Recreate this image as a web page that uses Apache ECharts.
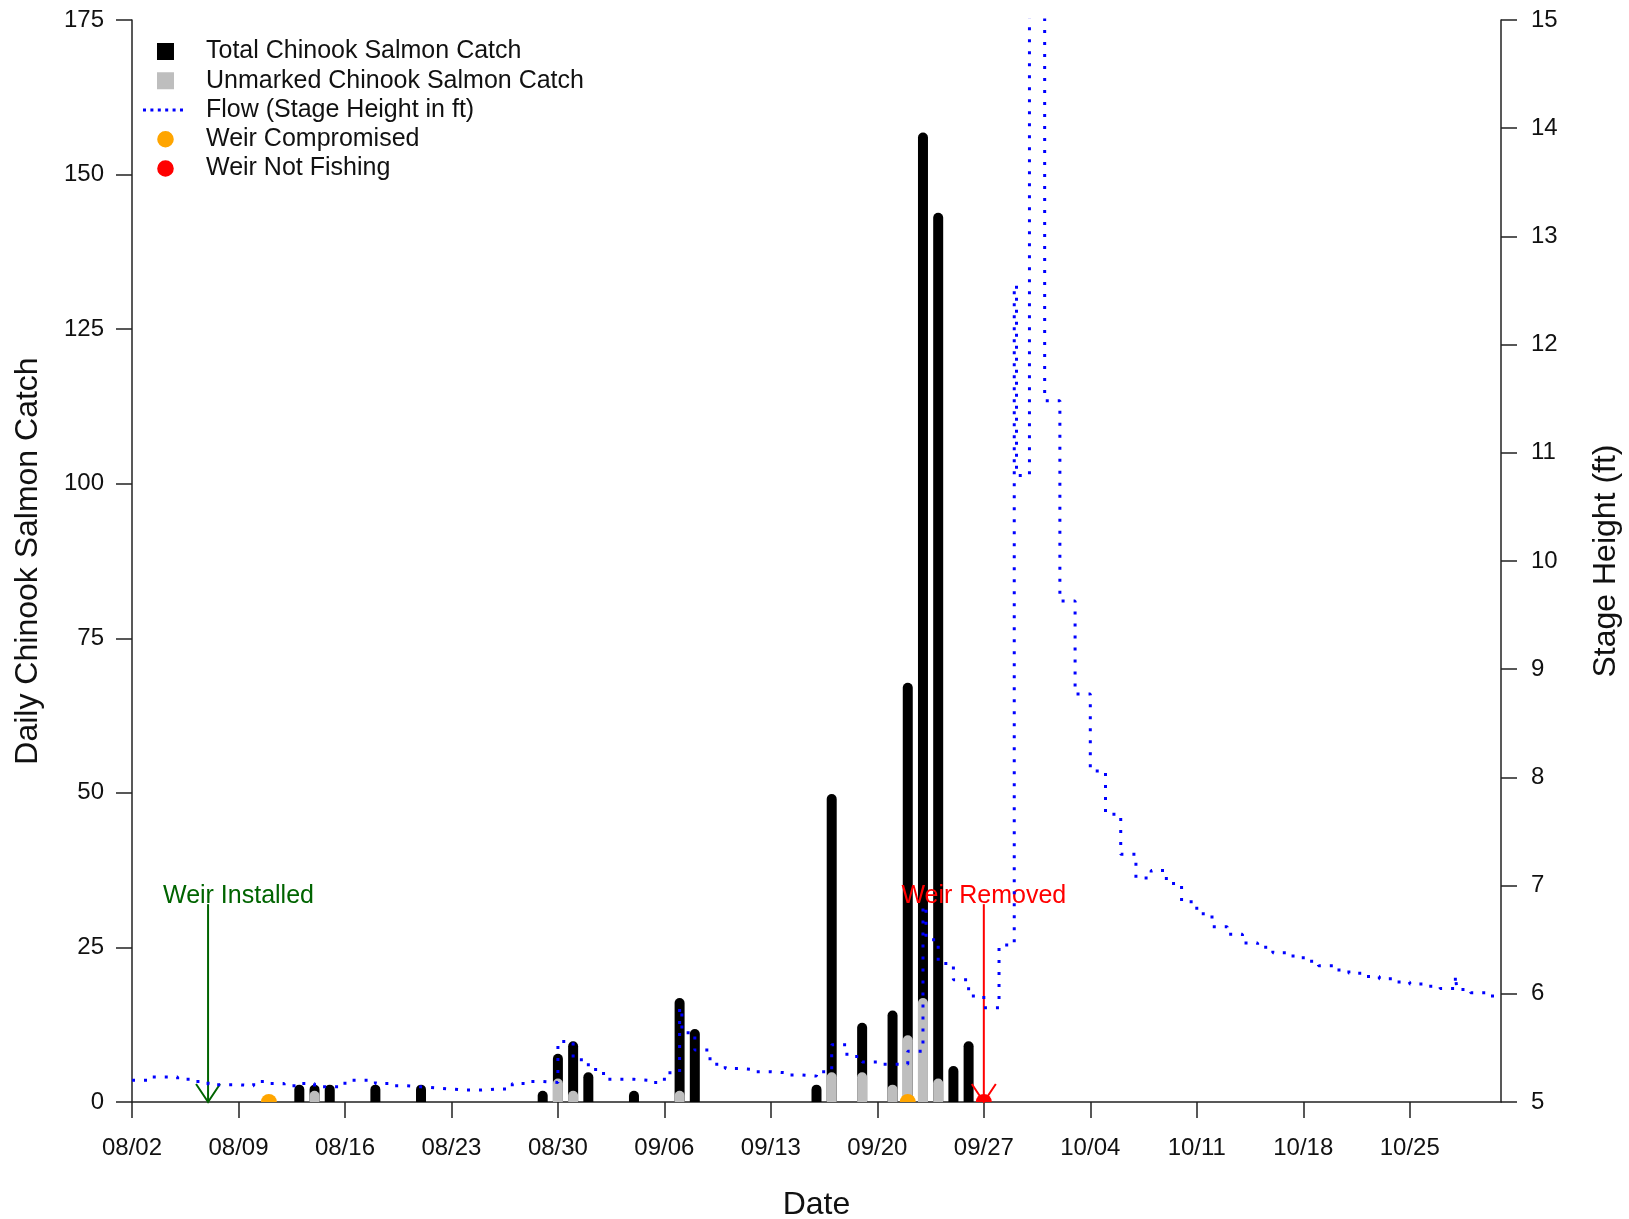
<!DOCTYPE html>
<html>
<head>
<meta charset="utf-8">
<script src="https://cdn.jsdelivr.net/npm/echarts@6/dist/echarts.min.js"></script>
<style>
html,body{margin:0;padding:0;background:#fff;}
#chart{width:1629px;height:1219px;}
</style>
</head>
<body>
<div id="chart"></div>
<script>
// ---------------- data ----------------
const seasonStart = '08/02';
const seasonEnd = '10/31';
const xTickLabels = ['08/02','08/09','08/16','08/23','08/30','09/06','09/13','09/20','09/27','10/04','10/11','10/18','10/25'];

const catchDates    = ['08/13','08/14','08/15','08/18','08/21','08/29','08/30','08/31','09/01','09/04','09/07','09/08','09/16','09/17','09/19','09/21','09/22','09/23','09/24','09/25','09/26'];
const totalCatch    = [2, 2, 2, 2, 2, 1, 7, 9, 4, 1, 16, 11, 2, 49, 12, 14, 67, 156, 143, 5, 9];
const unmarkedCatch = [0, 1, 0, 0, 0, 0, 3, 1, 0, 0, 1, 0, 0, 4, 4, 2, 10, 16, 3, 0, 0];

const compromisedDates = ['08/11','09/22'];
const notFishingDates  = ['09/27'];

const annotationNames  = ['Weir Installed','Weir Removed'];
const annotationDates  = ['08/07','09/27'];
const annotationLabelDates = ['08/09','09/27'];
const annotationTop    = [32, 32];
const annotationLabelY = [33.3, 33.3];

// stage height readings: day offset from 08/02 (step holds until next reading)
const flowDay   = [0,1,2,3,4,5,6,7,8,9,10,11,12,13,14,15,16,17,18,19,20,21,22,23,24,25,26,27,28,29,30,31,32,33,34,35,36,36.15,37,38,39,40,41,42,43,44,45,46,47,48,49,50,51,52,52.2,53,54,55,56,57,58,58.15,59,60,61,62,63,64,65,66,67,68,69,70,71,72,73,74,75,76,77,78,79,80,81,82,83,84,85,86,87,87.1,88,89,90];
const flowStage = [5.20,5.23,5.23,5.21,5.19,5.16,5.16,5.15,5.19,5.17,5.15,5.17,5.14,5.14,5.20,5.20,5.17,5.15,5.14,5.13,5.12,5.11,5.11,5.12,5.12,5.17,5.19,5.18,5.56,5.39,5.30,5.21,5.21,5.20,5.18,5.27,5.87,5.64,5.48,5.35,5.31,5.30,5.28,5.27,5.25,5.24,5.28,5.53,5.42,5.37,5.35,5.35,5.47,6.81,6.50,6.28,6.13,5.98,5.87,6.45,12.55,10.79,16.5,11.48,9.63,8.77,8.06,7.66,7.29,7.07,7.14,7.02,6.85,6.74,6.62,6.55,6.47,6.43,6.38,6.35,6.30,6.26,6.22,6.19,6.16,6.14,6.11,6.09,6.07,6.05,6.17,6.04,6.01,5.98,5.97];

const catchAxis = {min: 0, max: 175, step: 25};
const stageAxis = {min: 5, max: 15, step: 1};

// ---------------- helpers ----------------
function dayOf(mmdd) {
  const [m, d] = mmdd.split('/').map(Number);
  const [m0, d0] = seasonStart.split('/').map(Number);
  return Math.round((Date.UTC(2021, m - 1, d) - Date.UTC(2021, m0 - 1, d0)) / 864e5);
}
const tickDays = xTickLabels.map(dayOf);
const FONT = '"Liberation Sans", Arial, sans-serif';

function stickRender(color) {
  return function (params, api) {
    const x = api.value(0), v = api.value(1);
    const p0 = api.coord([x, 0]);
    const p1 = api.coord([x, v]);
    return {
      type: 'line',
      shape: {x1: p0[0], y1: p0[1], x2: p1[0], y2: p1[1]},
      style: {stroke: color, lineWidth: 10, lineCap: 'round'}
    };
  };
}
function dotRender(color) {
  return function (params, api) {
    const p = api.coord([api.value(0), api.value(1)]);
    return {type: 'circle', shape: {cx: p[0], cy: p[1], r: 8}, style: {fill: color}};
  };
}
function arrowRender(color, label) {
  return function (params, api) {
    const top = api.coord([api.value(0), api.value(1)]);
    const bot = api.coord([api.value(0), 0]);
    const t = api.coord([api.value(2), api.value(3)]);
    return {
      type: 'group',
      children: [
        {type: 'line', shape: {x1: top[0], y1: top[1], x2: bot[0], y2: bot[1]}, style: {stroke: color, lineWidth: 2}},
        {type: 'polyline', shape: {points: [[bot[0] - 12, bot[1] - 18], [bot[0], bot[1]], [bot[0] + 12, bot[1] - 18]]}, style: {stroke: color, lineWidth: 2, fill: 'none'}},
        {type: 'text', x: t[0], y: t[1], style: {text: label, fill: color, fontSize: 25, fontFamily: FONT, align: 'center', verticalAlign: 'middle'}}
      ]
    };
  };
}

// legend icons drawn in a 62 x 24 box
const BOX = 'M0,0h.01v.01h-.01zM62,24h.01v.01h-.01z';
const squareIcon = 'path://' + BOX + 'M18,3.5h17v17h-17z';
const circleIcon = 'path://' + BOX + 'M18.2,12a8.3,8.3 0 1,0 16.6,0a8.3,8.3 0 1,0 -16.6,0z';
let dashes = '';
for (let i = 0; i < 6; i++) { dashes += 'M' + (4 + i * 7.4) + ',10.5h3v3h-3z'; }
const dottedIcon = 'path://' + BOX + dashes;

// ---------------- chart ----------------
const chart = echarts.init(document.getElementById('chart'), null, {renderer: 'canvas'});

const axisLineStyle = {color: '#222', width: 1.5};
const series = [
  {
    name: 'Total Chinook Salmon Catch', type: 'custom', xAxisIndex: 0, yAxisIndex: 0, clip: true,
    itemStyle: {color: '#000000'},
    encode: {x: 0, y: 1},
    data: catchDates.map((d, i) => [dayOf(d), totalCatch[i]]),
    renderItem: stickRender('#000000')
  },
  {
    name: 'Unmarked Chinook Salmon Catch', type: 'custom', xAxisIndex: 0, yAxisIndex: 0, clip: true,
    itemStyle: {color: '#bebebe'},
    encode: {x: 0, y: 1},
    data: catchDates.map((d, i) => [dayOf(d), unmarkedCatch[i]]).filter(p => p[1] > 0),
    renderItem: stickRender('#bebebe')
  },
  {
    name: 'Flow (Stage Height in ft)', type: 'line', xAxisIndex: 0, yAxisIndex: 1, clip: true,
    step: 'end', symbol: 'none', showSymbol: false,
    itemStyle: {color: '#0000ff'},
    lineStyle: {color: '#0000ff', width: 3, type: [3, 9], cap: 'butt'},
    data: flowDay.map((d, i) => [d, flowStage[i]])
  },
  {
    name: 'Weir Compromised', type: 'custom', xAxisIndex: 0, yAxisIndex: 0, clip: true,
    itemStyle: {color: '#ffa500'},
    encode: {x: 0, y: 1},
    data: compromisedDates.map(d => [dayOf(d), 0]),
    renderItem: dotRender('#ffa500')
  },
  {
    name: 'Weir Not Fishing', type: 'custom', xAxisIndex: 0, yAxisIndex: 0, clip: true,
    itemStyle: {color: '#ff0000'},
    encode: {x: 0, y: 1},
    data: notFishingDates.map(d => [dayOf(d), 0]),
    renderItem: dotRender('#ff0000')
  }
];
const annColors = ['#006400', '#ff0000'];
annotationNames.forEach((nm, i) => {
  series.push({
    name: nm, type: 'custom', xAxisIndex: 0, yAxisIndex: 0, clip: false,
    encode: {x: 0, y: 1},
    data: [[dayOf(annotationDates[i]), annotationTop[i], dayOf(annotationLabelDates[i]), annotationLabelY[i]]],
    renderItem: arrowRender(annColors[i], nm)
  });
});

const option = {
  animation: false,
  backgroundColor: '#ffffff',
  textStyle: {fontFamily: FONT},
  grid: {left: 132, right: 128, top: 20, bottom: 117, containLabel: false, outerBoundsMode: 'none'},
  legend: {
    orient: 'vertical', left: 134, top: 34,
    itemWidth: 62, itemHeight: 24, itemGap: 4.25,
    selectedMode: false,
    textStyle: {fontSize: 25, color: '#111', fontFamily: FONT, lineHeight: 24},
    data: [
      {name: 'Total Chinook Salmon Catch', icon: squareIcon, itemStyle: {color: '#000000', borderWidth: 0}},
      {name: 'Unmarked Chinook Salmon Catch', icon: squareIcon, itemStyle: {color: '#bebebe', borderWidth: 0}},
      {name: 'Flow (Stage Height in ft)', icon: dottedIcon, itemStyle: {color: '#0000ff', borderWidth: 0}},
      {name: 'Weir Compromised', icon: circleIcon, itemStyle: {color: '#ffa500', borderWidth: 0}},
      {name: 'Weir Not Fishing', icon: circleIcon, itemStyle: {color: '#ff0000', borderWidth: 0}}
    ]
  },
  xAxis: {
    type: 'value', min: 0, max: dayOf(seasonEnd),
    name: 'Date', nameLocation: 'middle', nameGap: 87,
    nameTextStyle: {fontSize: 32, color: '#111', fontFamily: FONT},
    axisLine: {show: true, onZero: false, lineStyle: axisLineStyle},
    axisTick: {show: true, length: 16, customValues: tickDays, lineStyle: {color: '#222', width: 1.5}},
    axisLabel: {
      fontSize: 24, color: '#111', margin: 34, customValues: tickDays,
      formatter: v => { const k = tickDays.indexOf(v); return k >= 0 ? xTickLabels[k] : ''; }
    },
    splitLine: {show: false}
  },
  yAxis: [
    {
      type: 'value', position: 'left', min: catchAxis.min, max: catchAxis.max, interval: catchAxis.step,
      name: 'Daily Chinook Salmon Catch', nameLocation: 'middle', nameGap: 88, nameRotate: 90,
      nameTextStyle: {fontSize: 32, color: '#111', fontFamily: FONT},
      axisLine: {show: true, lineStyle: axisLineStyle},
      axisTick: {show: true, length: 16, lineStyle: {color: '#222', width: 1.5}},
      axisLabel: {fontSize: 24, color: '#111', margin: 28},
      splitLine: {show: false}
    },
    {
      type: 'value', position: 'right', min: stageAxis.min, max: stageAxis.max, interval: stageAxis.step,
      name: 'Stage Height (ft)', nameLocation: 'middle', nameGap: 89, nameRotate: 90,
      nameTextStyle: {fontSize: 32, color: '#111', fontFamily: FONT},
      axisLine: {show: true, lineStyle: axisLineStyle},
      axisTick: {show: true, length: 16, lineStyle: {color: '#222', width: 1.5}},
      axisLabel: {fontSize: 24, color: '#111', margin: 30},
      splitLine: {show: false}
    }
  ],
  series: series
};
chart.setOption(option);
</script>
</body>
</html>
